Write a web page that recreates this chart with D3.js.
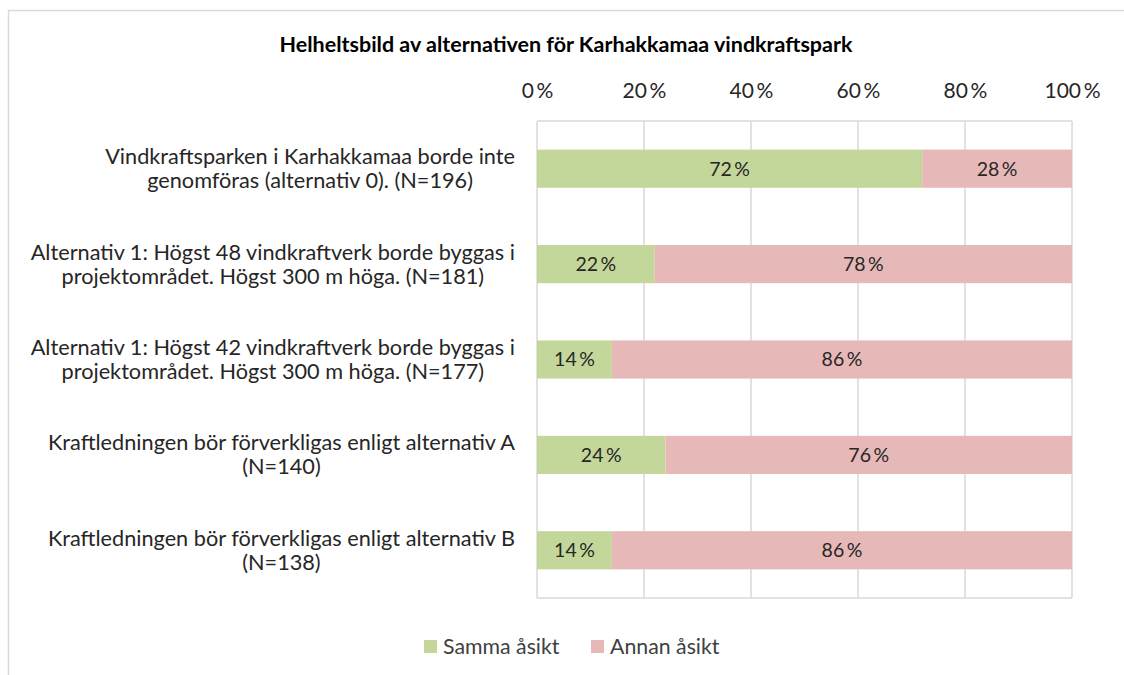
<!DOCTYPE html>
<html>
<head>
<meta charset="utf-8">
<script src="https://cdn.jsdelivr.net/npm/d3@7"></script>
<style>
  html, body { margin: 0; padding: 0; background: #ffffff; }
  svg text { font-family: Lato, "Open Sans", sans-serif; fill: #262626; }
</style>
</head>
<body>
<svg id="chart" width="1124" height="675"></svg>
<script>
// Survey answers per alternative, in percent
const categories = [
  ["Vindkraftsparken i Karhakkamaa borde inte", "genomföras (alternativ 0). (N=196)"],
  ["Alternativ 1: Högst 48 vindkraftverk borde byggas i", "projektområdet. Högst 300 m höga. (N=181)"],
  ["Alternativ 1: Högst 42 vindkraftverk borde byggas i", "projektområdet. Högst 300 m höga. (N=177)"],
  ["Kraftledningen bör förverkligas enligt alternativ A", "(N=140)"],
  ["Kraftledningen bör förverkligas enligt alternativ B", "(N=138)"]
];
const sammaValues = [72, 22, 14, 24, 14];
const annanValues = [28, 78, 86, 76, 86];
const seriesNames = ["Samma åsikt", "Annan åsikt"];
const seriesColors = ["#c4d79b", "#e6b9b8"];
const tickValues = [0, 20, 40, 60, 80, 100];
const title = "Helheltsbild av alternativen för Karhakkamaa vindkraftspark";

const svg = d3.select("#chart");
const W = 1124, H = 675;
const plot = { left: 537, right: 1072, top: 121, bottom: 598 };

// outer chart frame
svg.append("path")
  .attr("d", `M8.5,${H} V10.5 H${W}`)
  .attr("fill", "none").attr("stroke", "#d9d9d9").attr("stroke-width", 1.5);

svg.append("text")
  .attr("x", 566).attr("y", 52)
  .attr("text-anchor", "middle")
  .style("font-size", "21.5px").style("font-weight", "bold")
  .style("fill", "#000")
  .text(title);

const x = d3.scaleLinear().domain([0, 100]).range([plot.left, plot.right]);
const y = d3.scaleBand().domain(d3.range(categories.length))
  .range([plot.top, plot.bottom]).paddingInner(0.6).paddingOuter(0.3);

// gridlines
svg.append("g").selectAll("line").data(tickValues).join("line")
  .attr("x1", d => x(d)).attr("x2", d => x(d))
  .attr("y1", plot.top).attr("y2", plot.bottom)
  .attr("stroke", "#d9d9d9").attr("stroke-width", 1.5);
svg.append("line")
  .attr("x1", plot.left).attr("x2", plot.right)
  .attr("y1", plot.top).attr("y2", plot.top)
  .attr("stroke", "#d9d9d9").attr("stroke-width", 1.5);
svg.append("line")
  .attr("x1", plot.left).attr("x2", plot.right)
  .attr("y1", plot.bottom).attr("y2", plot.bottom)
  .attr("stroke", "#d9d9d9").attr("stroke-width", 1.5);

// top axis labels
const axis = d3.axisTop(x).tickValues(tickValues).tickSize(0).tickPadding(0)
  .tickFormat(d => d + "\u2009%");
const axG = svg.append("g").attr("transform", `translate(0,${plot.top - 23})`).call(axis);
axG.select(".domain").remove();
axG.selectAll("text").style("font-size", "21px").style("font-family", "Lato, sans-serif").attr("fill", "#404040");

// stacked bars
const stacked = categories.map((c, i) => [
  { s: 0, x0: 0, x1: sammaValues[i], v: sammaValues[i], i },
  { s: 1, x0: sammaValues[i], x1: sammaValues[i] + annanValues[i], v: annanValues[i], i }
]).flat();

svg.append("g").selectAll("rect").data(stacked).join("rect")
  .attr("x", d => x(d.x0)).attr("width", d => x(d.x1) - x(d.x0))
  .attr("y", d => y(d.i)).attr("height", y.bandwidth())
  .attr("fill", d => seriesColors[d.s]);

svg.append("g").selectAll("text").data(stacked).join("text")
  .attr("x", d => (x(d.x0) + x(d.x1)) / 2)
  .attr("y", d => y(d.i) + y.bandwidth() / 2)
  .attr("dy", "0.35em").attr("text-anchor", "middle")
  .style("font-size", "19.5px").style("fill", "#262626")
  .text(d => d.v + "\u2009%");

// category labels: centred lines, block right-aligned to the plot
const labelRight = 515;
categories.forEach((lines, i) => {
  const g = svg.append("g");
  const cy = y(i) + y.bandwidth() / 2;
  const lh = 24;
  const texts = lines.map((ln, k) => g.append("text")
    .attr("y", cy + (k - (lines.length - 1) / 2) * lh)
    .attr("dy", "0.35em").attr("text-anchor", "middle")
    .style("font-size", "21.7px")
    .text(ln));
  const maxW = d3.max(texts, t => t.node().getComputedTextLength());
  texts.forEach(t => t.attr("x", labelRight - maxW / 2));
});

// legend
const legend = svg.append("g");
const legendItems = [
  { name: seriesNames[0], color: seriesColors[0], x: 424 },
  { name: seriesNames[1], color: seriesColors[1], x: 591 }
];
legendItems.forEach(d => {
  legend.append("rect").attr("x", d.x).attr("y", 640).attr("width", 13).attr("height", 13).attr("fill", d.color);
  legend.append("text").attr("x", d.x + 19).attr("y", 647).attr("dy", "0.35em")
    .style("font-size", "21.3px").style("fill", "#404040").text(d.name);
});
</script>
</body>
</html>
